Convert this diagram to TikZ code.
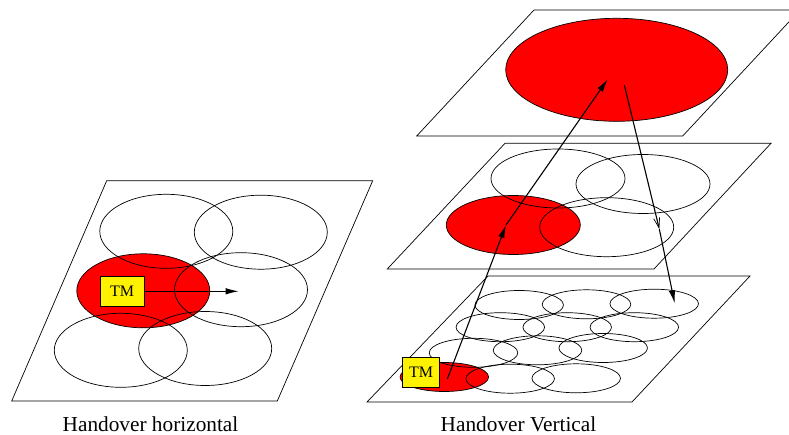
\documentclass[tikz,border=0pt]{standalone}
\usepackage{fontspec}
\setmainfont{Liberation Serif}
\usetikzlibrary{shapes.geometric,arrows.meta}

\tikzset{
  plane/.style={line width=0.7pt},
  cell/.style={draw,ellipse,inner sep=0pt,line width=0.7pt},
  bigcell/.style={cell,minimum width=133pt,minimum height=74pt},
  midcell/.style={cell,minimum width=134pt,minimum height=59pt},
  tinycell/.style={cell,minimum width=88.5pt,minimum height=29pt},
  hot/.style={fill=red},
  tmbox/.style={draw,fill=yellow,inner sep=0pt,line width=0.7pt,font=\fontsize{16}{18}\selectfont},
  move/.style={line width=1.1pt,-{Latex[length=13pt,width=6.5pt]}},
  caption/.style={anchor=base,font=\fontsize{21.3}{25}\selectfont}
}

\begin{document}
\begin{tikzpicture}[x=1pt,y=-1pt]
	\clip (0,0) rectangle (789,435);

	% horizontal handover
	\draw[plane] (106.7,180.7) -- (372.7,180.7) -- (277.3,401) -- (11.7,401) -- cycle;
	\node[bigcell,hot] (hr) at (143.3,290.8) {};
	\node[bigcell] (h1) at (166.3,231.3) {};
	\node[bigcell] (h2) at (260.8,232.2) {};
	\node[bigcell] (h4) at (241,289.7) {};
	\node[bigcell] (h5) at (120.8,350.3) {};
	\node[bigcell] (h6) at (205.2,348.5) {};
	\node[tmbox,minimum width=44.3pt,minimum height=29.3pt] (tmh) at (122.2,291.3) {TM};
	\coordinate (hgoal) at (238.7,291.3);
	\draw[move] (tmh.east) -- (hgoal);

	% vertical handover, top level
	\draw[plane] (534,10) -- (800,10) -- (682.7,136) -- (416.7,136) -- cycle;
	\node[cell,hot,minimum width=222pt,minimum height=103pt] (vtop) at (616.7,69.8) {};

	% middle level
	\draw[plane] (505,143.3) -- (771,143.3) -- (654,269) -- (387.3,269) -- cycle;
	\node[midcell,hot] (mr) at (513.3,225) {};
	\node[midcell] (m1) at (558,178.5) {};
	\node[midcell] (m2) at (643,184) {};
	\node[midcell] (m4) at (606.7,227.2) {};

	% bottom level
	\draw[plane] (488,276) -- (750,276) -- (632,402) -- (367,402) -- cycle;
	\node[tinycell,hot] (br) at (444.3,377) {};
	\foreach \name/\pos in {b1/{519.2,305},b2/{586.5,304.3},b3/{654.2,303.7},
	                        b4/{500.3,327.2},b5/{567.2,327.2},b6/{634.3,327.2},
	                        b7/{473.5,352.8},b8/{537.5,350.3},b9/{603.2,348},
	                        b10/{510.2,378.7},b11/{576.2,378.3}}
		\node[tinycell] (\name) at (\pos) {};
	\node[tmbox,minimum width=36.7pt,minimum height=29.7pt] (tmv) at (421,372.5) {TM};

	% moves between levels
	\coordinate (up0) at (447.3,379);
	\coordinate (up1) at (506,225);
	\coordinate (up2) at (607.7,79.3);
	\coordinate (dn0) at (624.3,85);
	\coordinate (dn1) at (659.3,229);
	\coordinate (dn2) at (674.7,303.3);
	\draw[move] (up0) -- (up1);
	\draw[move] (up1) -- (up2);
	\draw[line width=1.1pt,-{Straight Barb[length=10pt,width=6pt,line width=0.7pt]}] (dn0) -- (dn1);
	\draw[move] (dn1) -- (dn2);

	\node[caption] (caph) at (150.5,431) {Handover horizontal};
	\node[caption] (capv) at (518.5,431) {Handover Vertical};
\end{tikzpicture}
\end{document}
